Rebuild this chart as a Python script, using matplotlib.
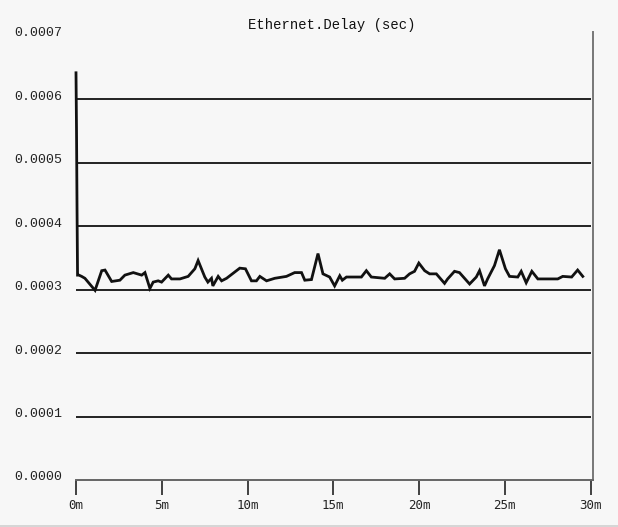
import matplotlib
matplotlib.use("Agg")
import matplotlib.pyplot as plt
from matplotlib.lines import Line2D
import matplotlib.transforms as mtransforms

# Ethernet delay samples: elapsed time (minutes) and delay (seconds)
minutes = [0.0, 0.03, 0.06, 0.09,
           0.17, 0.33, 0.52, 1.11, 1.50, 1.69, 2.08, 2.56, 2.85, 3.34,
           3.83, 4.02, 4.31, 4.50, 4.79, 4.99, 5.38, 5.57, 6.06, 6.54,
           6.93, 7.12, 7.51, 7.69, 7.90, 7.98, 8.29, 8.49, 8.78, 9.55,
           9.88, 10.23, 10.52, 10.72, 11.11, 11.59, 12.27, 12.75, 13.15, 13.34,
           13.73, 14.11, 14.40, 14.79, 15.08, 15.38, 15.53, 15.77, 16.64, 16.93,
           17.22, 18.00, 18.29, 18.58, 19.16, 19.45, 19.74, 19.99, 20.33, 20.62,
           21.01, 21.49, 21.67, 22.07, 22.36, 22.95, 23.34, 23.53, 23.82, 24.00,
           24.40, 24.69, 25.04, 25.28, 25.76, 25.96, 26.25, 26.58, 26.93, 28.09,
           28.38, 28.90, 29.25, 29.55]
delay = [0.000642, 0.000551, 0.000428, 0.000323,
         0.000323, 0.000321, 0.000318, 0.000299, 0.000330, 0.000331, 0.000313, 0.000315, 0.000323, 0.000327,
         0.000323, 0.000327, 0.000302, 0.000312, 0.000314, 0.000312, 0.000323, 0.000317, 0.000317, 0.000321,
         0.000333, 0.000346, 0.000320, 0.000312, 0.000318, 0.000306, 0.000321, 0.000314, 0.000318, 0.000334,
         0.000333, 0.000314, 0.000314, 0.000321, 0.000314, 0.000318, 0.000321, 0.000327, 0.000327, 0.000315,
         0.000316, 0.000357, 0.000325, 0.000320, 0.000306, 0.000322, 0.000315, 0.000320, 0.000320, 0.000330,
         0.000320, 0.000318, 0.000325, 0.000317, 0.000318, 0.000325, 0.000329, 0.000342, 0.000330, 0.000325,
         0.000325, 0.000310, 0.000317, 0.000329, 0.000327, 0.000309, 0.000320, 0.000330, 0.000306, 0.000317,
         0.000338, 0.000363, 0.000333, 0.000321, 0.000320, 0.000329, 0.000311, 0.000329, 0.000317, 0.000317,
         0.000321, 0.000320, 0.000331, 0.000321]

x_ticks = [0, 5, 10, 15, 20, 25, 30]
x_labels = ["0m", "5m", "10m", "15m", "20m", "25m", "30m"]
y_ticks = [0.0, 0.0001, 0.0002, 0.0003, 0.0004, 0.0005, 0.0006, 0.0007]
y_labels = ["0.0000", "0.0001", "0.0002", "0.0003", "0.0004", "0.0005", "0.0006", "0.0007"]
title = "Ethernet.Delay (sec)"

W, H = 618, 527
bg = "#f7f7f7"
fig = plt.figure(figsize=(W / 100, H / 100), dpi=100, facecolor=bg)

# plot area in pixels: left 76, right 593, top 32, bottom 480
left, right, top, bottom = 76, 593, 32, 480
ax = fig.add_axes([left / W, 1 - bottom / H, (right - left) / W, (bottom - top) / H])
ax.set_facecolor(bg)

px_per_min = (590.5 - 76) / 30.0
ax.set_xlim(0, (right - left) / px_per_min)
px_per_unit = (480 - 36) / 0.0007
ax.set_ylim(0, (bottom - top) / px_per_unit)

# horizontal grid lines
ax.hlines(y_ticks[1:-1], 0, 30, colors="#111111", linewidth=1.3, zorder=1)

# data line (not clipped so the start-up spike at t=0 keeps its full width)
ax.plot(minutes, delay, color="#111111", linewidth=2.0, solid_joinstyle="miter",
        zorder=3, clip_on=False)

for side in ["left", "top"]:
    ax.spines[side].set_visible(False)
ax.spines["right"].set_color("#777777")
ax.spines["right"].set_linewidth(1.4)
ax.spines["bottom"].set_color("#666666")
ax.spines["bottom"].set_linewidth(1.4)

ax.set_xticks(x_ticks)
ax.set_xticklabels(x_labels, family="DejaVu Sans Mono", fontsize=9, color="#222222")
ax.tick_params(axis="x", length=10.8, width=1.3, color="#333333", pad=3)

ax.set_yticks(y_ticks)
ax.set_yticklabels(y_labels, family="Liberation Mono", fontsize=9.5, color="#222222")
ax.tick_params(axis="y", length=0, pad=10)
shift = mtransforms.ScaledTranslation(0, 2.5 / 100, fig.dpi_scale_trans)
for lbl in ax.get_yticklabels():
    lbl.set_verticalalignment("center")
    lbl.set_transform(lbl.get_transform() + shift)

fig.text(332 / W, 1 - 25 / H, title, ha="center", va="center",
         family="Liberation Mono", fontsize=10, color="#111111")

# thin separator at the bottom edge
fig.add_artist(Line2D([0, 1], [1 - 525.5 / H, 1 - 525.5 / H], transform=fig.transFigure,
                      color="#d0d0d0", linewidth=1.2))

fig.savefig("out.png", dpi=100, facecolor=bg)
